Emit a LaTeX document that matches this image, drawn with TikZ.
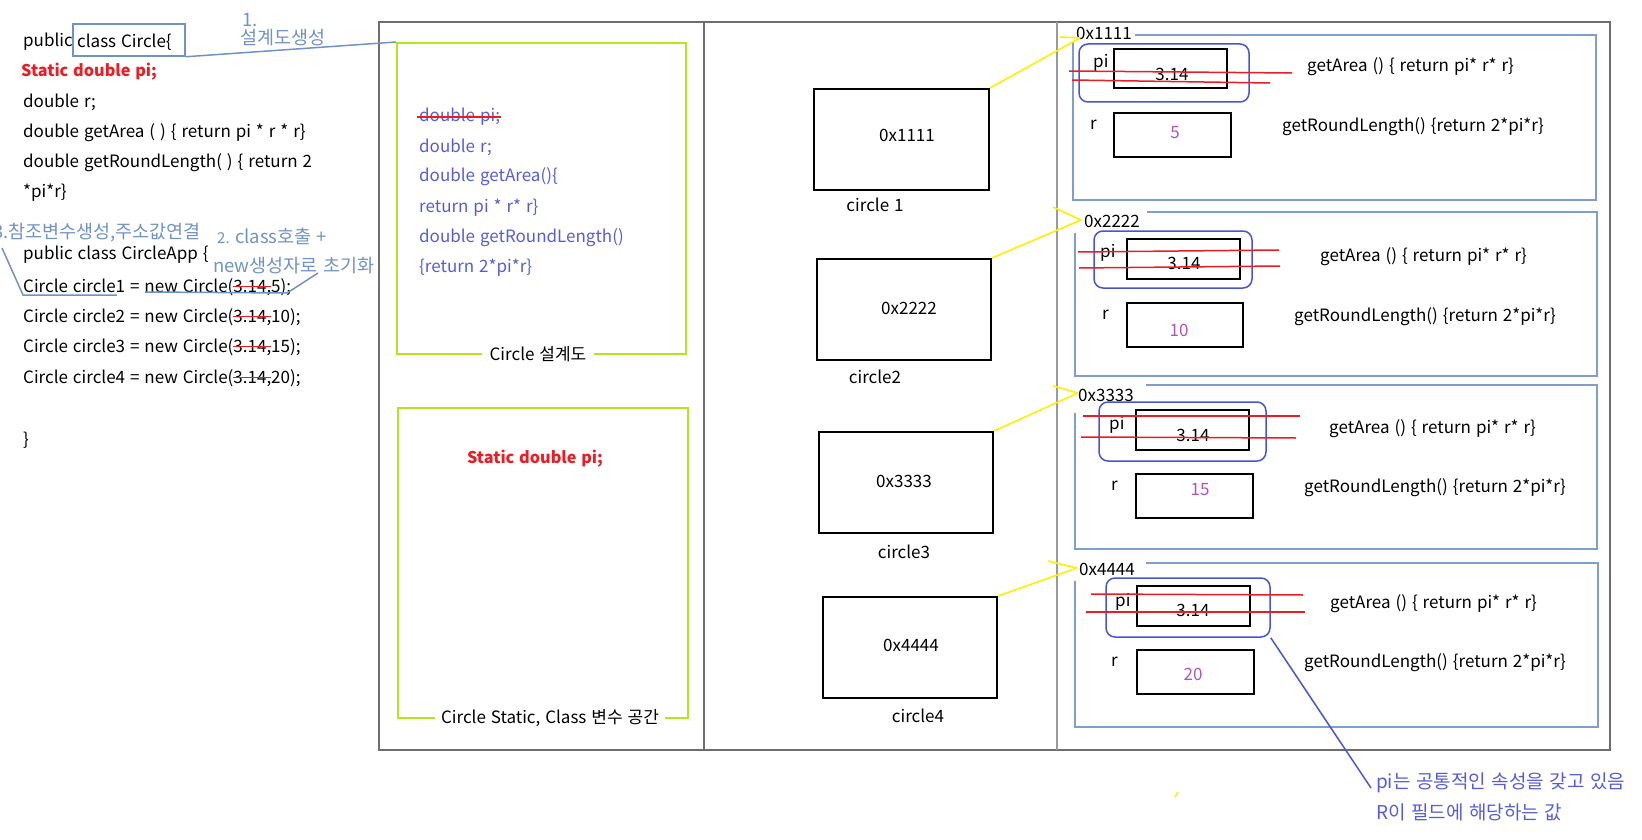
\documentclass[tikz,border=0pt]{standalone}
\usepackage{fontspec}
\setmainfont{Noto Sans CJK KR}[WordSpace=1.3]
\definecolor{annot}{RGB}{112,146,198}
\definecolor{objf}{RGB}{127,157,205}
\definecolor{grn}{RGB}{181,230,29}
\definecolor{bl}{RGB}{72,84,212}
\definecolor{bltxt}{RGB}{88,92,218}
\definecolor{redc}{RGB}{237,28,36}
\definecolor{purp}{RGB}{175,85,185}
\definecolor{yel}{RGB}{255,240,0}
\definecolor{grayf}{RGB}{110,110,110}
\newsavebox\stbox
\newcommand\mystrike[1]{\sbox\stbox{#1}\rlap{\usebox\stbox}\textcolor{redc}{\rule[0.3em]{\wd\stbox}{1.4pt}}}
\newcommand\bodyfont{\fontsize{17}{20}\selectfont}
\tikzset{
  txt/.style={inner sep=0pt, anchor=west, font=\bodyfont},
  ctxt/.style={inner sep=0pt, font=\bodyfont},
  atxt/.style={inner sep=0pt, anchor=west, text=annot, font=\fontsize{18.5}{21}\selectfont},
  annl/.style={draw=annot, line width=1.5pt},
  grnbox/.style={draw=grn, line width=2pt, inner sep=0pt},
  blk/.style={draw=black, line width=2pt, inner sep=0pt},
  valbox/.style={draw=black, line width=1.8pt, inner sep=0pt},
  pibox/.style={draw=bl, line width=1.5pt, rounded corners=9pt, inner sep=0pt},
  objfr/.style={draw=objf, line width=2pt},
  yl/.style={draw=yel, line width=1.6pt},
  rl/.style={draw=redc, line width=1.5pt},
  num/.style={inner sep=0pt, text=purp, font=\bodyfont},
  boldred/.style={text=redc, font=\fontsize{16.2}{19}\selectfont\bfseries},
}
\begin{document}
\begin{tikzpicture}[x=1pt,y=-1pt]
\useasboundingbox (0,0) rectangle (1642,840);
% main frame
\draw[grayf, line width=1.3pt] (379,22) rectangle (1610,750);
\draw[grayf, line width=1.3pt] (704,22) -- (704,750);
\draw[grayf!70, line width=1.3pt] (1057,22) -- (1057,750);

% left code
\node[txt] (c0) at (23,42) {public};
\node[draw=annot, line width=1.5pt, minimum width=112pt, minimum height=32pt, inner sep=0pt] (cls) at (129,40) {};
\node[txt] (c0b) at (77,42) {class Circle\{};
\node[txt, boldred] (c1) at (21,72) {Static double pi;};
\node[txt] (c2) at (23,102) {double r;};
\node[txt] (c3) at (23,133) {double getArea ( ) \{ return pi * r * r\}};
\node[txt] (c4) at (23,163) {double getRoundLength( ) \{ return 2};
\node[txt] (c5) at (23,193) {*pi*r\}};
\node[txt] (c6) at (23,255) {public class CircleApp \{};
\node[txt] (c7) at (23,287) {Circle circle1 = new Circle(\mystrike{3.14,}5);};
\node[txt] (c8) at (23,317) {Circle circle2 = new Circle(\mystrike{3.14,}10);};
\node[txt] (c9) at (23,347) {Circle circle3 = new Circle(\mystrike{3.14,}15);};
\node[txt] (c10) at (23,378) {Circle circle4 = new Circle(\mystrike{3.14,}20);};
\node[txt] (c11) at (23,440) {\}};

% annotations
\node[atxt] (a1n) at (242,20) {1.};
\node[atxt] (a1) at (240,38) {설계도생성};
\node[atxt, anchor=east] (a3) at (201,233) {3.참조변수생성,주소값연결};
\node[atxt] (a2) at (217,236) {{\fontsize{15}{17}\selectfont 2.}\ class호출 +};
\node[atxt] (a2b) at (213,266) {new생성자로 초기화};

% green boxes
\node[grnbox, minimum width=289pt, minimum height=311pt] (g1) at (541.5,198.5) {};
\node[ctxt, fill=white, inner xsep=8pt, inner ysep=1pt] (g1l) at (538,354) {Circle 설계도};
\node[grnbox, minimum width=290pt, minimum height=310pt] (g2) at (543,563) {};
\node[ctxt, fill=white, inner xsep=6pt, inner ysep=1pt] (g2l) at (550,718) {Circle Static, Class 변수 공간};
\node[inner sep=0pt, boldred] (sp) at (535,459) {Static double pi;};

\node[txt, text=bltxt] (d1) at (419,117) {double pi;};
\draw[rl] (417,117) -- (501,117);
\node[txt, text=bltxt] (d2) at (419,147) {double r;};
\node[txt, text=bltxt] (d3) at (419,177) {double getArea()\{};
\node[txt, text=bltxt] (d4) at (419,208) {return pi * r* r\}};
\node[txt, text=bltxt] (d5) at (419,238) {double getRoundLength()};
\node[txt, text=bltxt] (d6) at (419,268) {\{return 2*pi*r\}};

% annotation lines
\draw[annl] (cls.south east) -- (g1.north west);
\coordinate (a3s) at (2,248);
\coordinate (a3m) at (23,295);
\coordinate (a3e) at (117,295);
\draw[annl] (a3s) -- (a3m) -- (a3e);
\coordinate (a2s) at (145,292);
\coordinate (a2m) at (287,293);
\coordinate (a2e) at (318,273);
\draw[annl] (a2s) -- (a2m) -- (a2e);

% middle reference boxes
\node[blk, minimum width=175pt, minimum height=101pt] (m1) at (901.5,139.5) {};
\node[blk, minimum width=174pt, minimum height=101pt] (m2) at (904,309.5) {};
\node[blk, minimum width=174pt, minimum height=101pt] (m3) at (906,482.5) {};
\node[blk, minimum width=174pt, minimum height=101pt] (m4) at (910,647.5) {};
\node[ctxt] (m1t) at (907,135) {0x1111};
\node[ctxt] (m2t) at (909,308) {0x2222};
\node[ctxt] (m3t) at (904,481) {0x3333};
\node[ctxt] (m4t) at (911,645) {0x4444};
\node[ctxt] (n1) at (875,205) {circle 1};
\node[ctxt] (n2) at (875,377) {circle2};
\node[ctxt] (n3) at (904,552) {circle3};
\node[ctxt] (n4) at (918,716) {circle4};

% object frames
\node[txt] (o1) at (1076,33) {0x1111};
\draw[objfr] (1135,35) -| (1596,200) -| (1073,42);
\node[txt] (o2) at (1084,221) {0x2222};
\draw[objfr] (1147,212) -| (1597,376) -| (1075,233);
\node[txt] (o3) at (1078,395) {0x3333};
\draw[objfr] (1146,385) -| (1597,549) -| (1075,413);
\node[txt] (o4) at (1079,569) {0x4444};
\draw[objfr] (1146,563) -| (1598,727) -| (1075,581);

% yellow connectors
\coordinate (t1) at (1080,38);  \coordinate (b1) at (1060,37);
\coordinate (t2) at (1081,220); \coordinate (b2) at (1053,207);
\coordinate (t3) at (1078,393); \coordinate (b3) at (1053,386);
\coordinate (t4) at (1077,568); \coordinate (b4) at (1048,561);
\draw[yl] (m1.north east) -- (t1); \draw[yl] (b1) -- (t1);
\draw[yl] (m2.north east) -- (t2); \draw[yl] (b2) -- (t2);
\draw[yl] (m3.north east) -- (t3); \draw[yl] (b3) -- (t3);
\draw[yl] (m4.north east) -- (t4); \draw[yl] (b4) -- (t4);

% pi groups
\node[pibox, minimum width=170pt, minimum height=58pt] (p1) at (1164,73) {};
\node[pibox, minimum width=158pt, minimum height=57pt] (p2) at (1173,259.5) {};
\node[pibox, minimum width=167pt, minimum height=59pt] (p3) at (1182.5,431.5) {};
\node[pibox, minimum width=164pt, minimum height=59pt] (p4) at (1188,607.5) {};

% value boxes
\node[valbox, minimum width=113pt, minimum height=39pt] (v1) at (1170.5,68.5) {};
\node[valbox, minimum width=117pt, minimum height=44pt] (r1) at (1172.5,135) {};
\node[valbox, minimum width=113pt, minimum height=40pt] (v2) at (1183.5,259) {};
\node[valbox, minimum width=116pt, minimum height=44pt] (r2) at (1185,325) {};
\node[valbox, minimum width=113pt, minimum height=40pt] (v3) at (1192.5,430) {};
\node[valbox, minimum width=117pt, minimum height=44pt] (r3) at (1194.5,496) {};
\node[valbox, minimum width=113pt, minimum height=40pt] (v4) at (1193.5,606) {};
\node[valbox, minimum width=117pt, minimum height=44pt] (r4) at (1195.5,672) {};

\node[ctxt] (v1t) at (1172,74) {3.14};
\node[ctxt] (v2t) at (1184,263) {3.14};
\node[ctxt] (v3t) at (1193,435) {3.14};
\node[ctxt] (v4t) at (1193,610) {3.14};
\node[num] (r1t) at (1175,133) {5};
\node[num] (r2t) at (1179,330) {10};
\node[num] (r3t) at (1200,490) {15};
\node[num] (r4t) at (1193,674) {20};

\node[txt] (pi1) at (1093,63) {pi};
\node[txt] (pi2) at (1100,253) {pi};
\node[txt] (pi3) at (1109,425) {pi};
\node[txt] (pi4) at (1115,602) {pi};
\node[txt] (rl1) at (1090,125) {r};
\node[txt] (rl2) at (1102,315) {r};
\node[txt] (rl3) at (1111,486) {r};
\node[txt] (rl4) at (1111,662) {r};

\node[txt] (ga1) at (1307,67) {getArea () \{ return pi* r* r\}};
\node[txt] (ga2) at (1320,257) {getArea () \{ return pi* r* r\}};
\node[txt] (ga3) at (1329,429) {getArea () \{ return pi* r* r\}};
\node[txt] (ga4) at (1330,604) {getArea () \{ return pi* r* r\}};
\node[txt] (gr1) at (1282,127) {getRoundLength() \{return 2*pi*r\}};
\node[txt] (gr2) at (1294,317) {getRoundLength() \{return 2*pi*r\}};
\node[txt] (gr3) at (1304,488) {getRoundLength() \{return 2*pi*r\}};
\node[txt] (gr4) at (1304,663) {getRoundLength() \{return 2*pi*r\}};

% red cross-out lines
\draw[rl] (1069,71) -- (1292,73);  \draw[rl] (1072,80) -- (1270,83);
\draw[rl] (1078,252) -- (1279,250); \draw[rl] (1079,268) -- (1280,266);
\draw[rl] (1083,416) -- (1300,416); \draw[rl] (1081,437) -- (1296,438);
\draw[rl] (1091,594) -- (1303,595); \draw[rl] (1086,612) -- (1305,612);

% pi annotation
\coordinate (pa) at (1371,788);
\draw[draw=bl, line width=1.5pt] (p4.south east) -- (pa);
\node[txt, text=bltxt, font=\fontsize{19}{22}\selectfont] (pn1) at (1376,783) {pi는 공통적인 속성을 갖고 있음};
\node[txt, text=bltxt, font=\fontsize{19}{22}\selectfont] (pn2) at (1376,812) {R이 필드에 해당하는 값};

% stray yellow mark
\draw[yl] (1175,797) -- (1178,792);
\end{tikzpicture}
\end{document}
